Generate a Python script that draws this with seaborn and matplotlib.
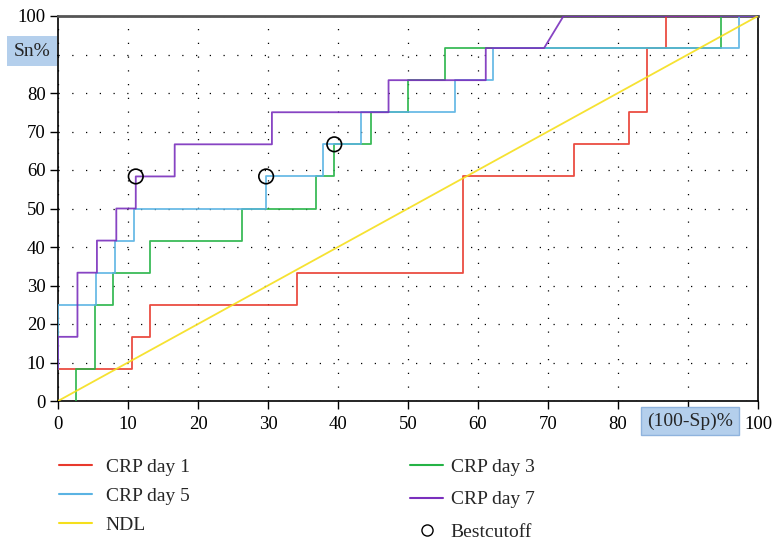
import matplotlib
matplotlib.use("Agg")
import matplotlib.pyplot as plt
import seaborn as sns
import pandas as pd
from matplotlib.lines import Line2D

# ---- data ----
day1_x = [0, 10.53, 10.53, 13.16, 13.16, 34.21, 34.21, 57.89, 57.89, 73.68, 73.68, 81.58, 81.58, 84.21, 84.21, 86.84, 86.84, 100]
day1_y = [8.33, 8.33, 16.67, 16.67, 25, 25, 33.33, 33.33, 58.33, 58.33, 66.67, 66.67, 75, 75, 91.67, 91.67, 100, 100]

day3_x = [2.63, 2.63, 5.26, 5.26, 7.89, 7.89, 13.16, 13.16, 26.32, 26.32, 36.84, 36.84, 39.47, 39.47, 44.74, 44.74, 50.0, 50.0, 55.26, 55.26, 94.74, 94.74, 100]
day3_y = [0, 8.33, 8.33, 25, 25, 33.33, 33.33, 41.67, 41.67, 50, 50, 58.33, 58.33, 66.67, 66.67, 75, 75, 83.33, 83.33, 91.67, 91.67, 100, 100]

day5_x = [0, 0, 5.41, 5.41, 8.11, 8.11, 10.81, 10.81, 29.73, 29.73, 37.84, 37.84, 43.24, 43.24, 56.76, 56.76, 62.16, 62.16, 97.30, 97.30, 100]
day5_y = [8.33, 25, 25, 33.33, 33.33, 41.67, 41.67, 50, 50, 58.33, 58.33, 66.67, 66.67, 75, 75, 83.33, 83.33, 91.67, 91.67, 100, 100]

day7_x = [0, 0, 2.78, 2.78, 5.56, 5.56, 8.33, 8.33, 11.11, 11.11, 16.67, 16.67, 30.56, 30.56, 47.22, 47.22, 61.11, 61.11, 69.44, 72.22, 100]
day7_y = [8.33, 16.67, 16.67, 33.33, 33.33, 41.67, 41.67, 50, 50, 58.33, 58.33, 66.67, 66.67, 75, 75, 83.33, 83.33, 91.67, 91.67, 100, 100]

ndl_x = [0, 100]
ndl_y = [0, 100]

cutoff_x = [11.11, 29.73, 39.47]
cutoff_y = [58.33, 58.33, 66.67]

xticks = [0, 10, 20, 30, 40, 50, 60, 70, 80, 90, 100]
yticks = [0, 10, 20, 30, 40, 50, 60, 70, 80, 90, 100]
# the 90 labels are hidden behind the axis-title boxes in the reference
xticklabels = ["0", "10", "20", "30", "40", "50", "60", "70", "80", "", "100"]
yticklabels = ["0", "10", "20", "30", "40", "50", "60", "70", "80", "", "100"]

colors = {"CRP day 1": "#e8392d", "CRP day 3": "#25b346",
          "CRP day 5": "#5ab3e3", "CRP day 7": "#7a2fbd", "NDL": "#f5df1c"}

sns.set_style("white")
plt.rcParams["font.family"] = ["Liberation Serif", "DejaVu Serif"]

fig = plt.figure(figsize=(7.75, 5.44), dpi=100)
ax = fig.add_axes([58 / 775, 1 - 401 / 544, 700 / 775, 385 / 544])

series = [("CRP day 1", day1_x, day1_y), ("CRP day 3", day3_x, day3_y),
          ("CRP day 5", day5_x, day5_y), ("CRP day 7", day7_x, day7_y),
          ("NDL", ndl_x, ndl_y)]
for name, xs, ys in series:
    df = pd.DataFrame({"x": xs, "y": ys})
    sns.lineplot(data=df, x="x", y="y", sort=False, estimator=None,
                 color=colors[name], lw=1.3, alpha=0.9, ax=ax, zorder=3)

sns.scatterplot(x=cutoff_x, y=cutoff_y, ax=ax, s=110, marker="o",
                facecolor="none", edgecolor="black", linewidth=1.2, zorder=5)

ax.set_xlim(0, 100)
ax.set_ylim(0, 100)
ax.set_xticks(xticks)
ax.set_yticks(yticks)
ax.set_xticklabels(xticklabels)
ax.set_yticklabels(yticklabels)
ax.set_xlabel("")
ax.set_ylabel("")
ax.tick_params(axis="both", labelsize=13.5, length=6, width=1, colors="black",
               direction="out", bottom=True, left=True)
ax.tick_params(axis="x", pad=5)
ax.tick_params(axis="y", pad=3)
ax.grid(True, color="black", linestyle=(0, (1, 10)), linewidth=0.9)
for side in ["left", "bottom", "right"]:
    ax.spines[side].set_visible(True)
    ax.spines[side].set_color("black")
    ax.spines[side].set_linewidth(1.2)
ax.spines["top"].set_color("#555555")
ax.spines["top"].set_linewidth(2.0)

# boxed axis titles
fig.text(32 / 775, 1 - 51 / 544, "Sn%", ha="center", va="center", fontsize=14,
         bbox=dict(boxstyle="square,pad=0.35", fc="#b4cfec", ec="none"), zorder=10)
fig.text(690 / 775, 1 - 421 / 544, "(100-Sp)%", ha="center", va="center", fontsize=14,
         bbox=dict(boxstyle="square,pad=0.3", fc="#b4cfec", ec="#8fb3dd", lw=1), zorder=10)

# legends
h1 = [Line2D([], [], color=colors["CRP day 1"], lw=1.5),
      Line2D([], [], color=colors["CRP day 5"], lw=1.5),
      Line2D([], [], color=colors["NDL"], lw=1.5)]
l1 = ["CRP day 1", "CRP day 5", "NDL"]
h2 = [Line2D([], [], color=colors["CRP day 3"], lw=1.5),
      Line2D([], [], color=colors["CRP day 7"], lw=1.5),
      Line2D([], [], color="black", marker="o", markersize=8, markerfacecolor="none", lw=0)]
l2 = ["CRP day 3", "CRP day 7", "Bestcutoff"]

leg1 = fig.legend(h1, l1, loc="upper left", bbox_to_anchor=(59 / 775, 1 - 458 / 544),
                  frameon=False, fontsize=14, handlelength=1.7, handletextpad=0.7,
                  labelspacing=0.6, borderaxespad=0, borderpad=0)
leg2 = fig.legend(h2, l2, loc="upper left", bbox_to_anchor=(410 / 775, 1 - 458 / 544),
                  frameon=False, fontsize=14, handlelength=1.7, handletextpad=0.4,
                  labelspacing=0.78, borderaxespad=0, borderpad=0)

fig.savefig("out.png", dpi=100)
